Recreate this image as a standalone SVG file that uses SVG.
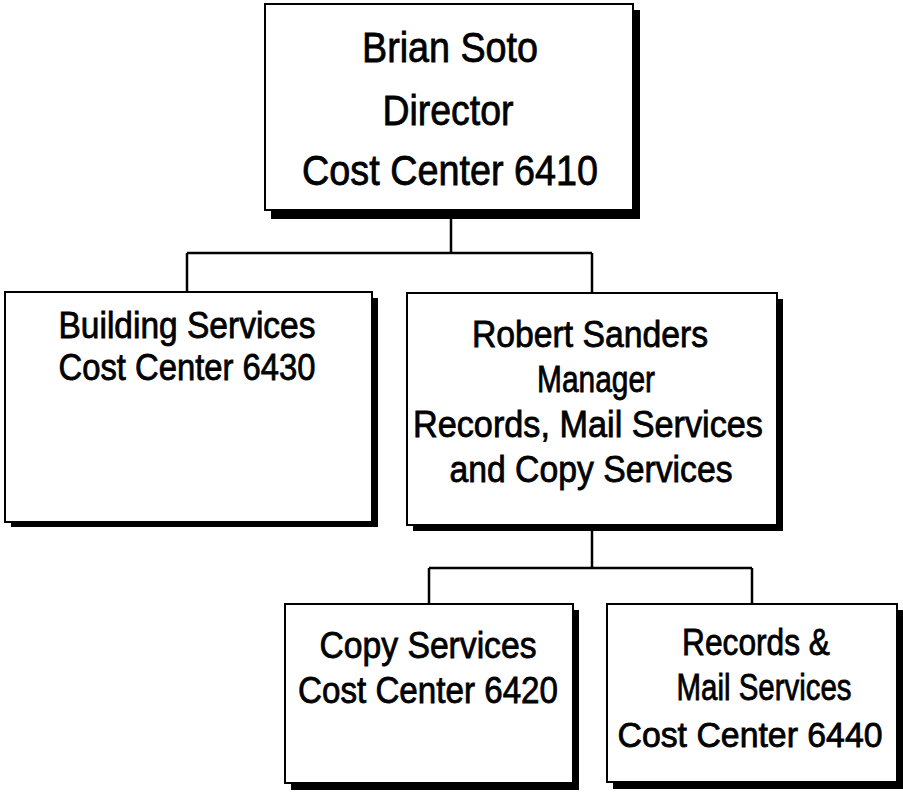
<svg xmlns="http://www.w3.org/2000/svg" width="903" height="794" viewBox="0 0 903 794">
<style>
.shadow{fill:#000}
.box{fill:#fff;stroke:#000;stroke-width:2}
.conn{fill:none;stroke:#000;stroke-width:2.5}
text{font-family:"Liberation Sans",Arial,sans-serif;fill:#000;stroke:#000;stroke-width:0.8;text-anchor:middle}
.big{font-size:43px}
.mid{font-size:37px}
.fit{font-size:35px}
</style>
<rect width="903" height="794" fill="#fff"/>
<g id="connectors">
<path class="conn" d="M451,210 V253 M187,253 H592 M187,253 V292 M592,253 V293"/>
<path class="conn" d="M592,525 V568 M429,568 H752 M429,568 V604 M752,568 V604"/>
</g>
<g id="node-director">
<rect class="shadow" x="271" y="10" width="369" height="209"/>
<rect class="box" x="265" y="4" width="368" height="206"/>
<text class="big" x="450" y="62" textLength="176" lengthAdjust="spacingAndGlyphs">Brian Soto</text>
<text class="big" x="448" y="125" textLength="131" lengthAdjust="spacingAndGlyphs">Director</text>
<text class="big" x="450" y="185" textLength="296" lengthAdjust="spacingAndGlyphs">Cost Center 6410</text>
</g>
<g id="node-building">
<rect class="shadow" x="11" y="298" width="367" height="229"/>
<rect class="box" x="5" y="292" width="367" height="230"/>
<text class="mid" x="187" y="338" textLength="257" lengthAdjust="spacingAndGlyphs">Building Services</text>
<text class="mid" x="187" y="380" textLength="257" lengthAdjust="spacingAndGlyphs">Cost Center 6430</text>
</g>
<g id="node-manager">
<rect class="shadow" x="413" y="299" width="370" height="232"/>
<rect class="box" x="407" y="293" width="370" height="232"/>
<text class="mid" x="590" y="347" textLength="236" lengthAdjust="spacingAndGlyphs">Robert Sanders</text>
<text class="mid" x="596" y="392" textLength="118" lengthAdjust="spacingAndGlyphs">Manager</text>
<text class="mid" x="588" y="437" textLength="350" lengthAdjust="spacingAndGlyphs">Records, Mail Services</text>
<text class="mid" x="591" y="482" textLength="283" lengthAdjust="spacingAndGlyphs">and Copy Services</text>
</g>
<g id="node-copy">
<rect class="shadow" x="291" y="610" width="288" height="180"/>
<rect class="box" x="285" y="604" width="288" height="179"/>
<text class="mid" x="428" y="658" textLength="217" lengthAdjust="spacingAndGlyphs">Copy Services</text>
<text class="mid" x="428" y="703" textLength="260" lengthAdjust="spacingAndGlyphs">Cost Center 6420</text>
</g>
<g id="node-records">
<rect class="shadow" x="613" y="610" width="290" height="179"/>
<rect class="box" x="607" y="604" width="290" height="178"/>
<text class="mid" x="756" y="655" textLength="148" lengthAdjust="spacingAndGlyphs">Records &amp;</text>
<text class="mid" x="764" y="700" textLength="175" lengthAdjust="spacingAndGlyphs">Mail Services</text>
<text class="fit" x="750" y="747" textLength="265" lengthAdjust="spacingAndGlyphs">Cost Center 6440</text>
</g>
</svg>
